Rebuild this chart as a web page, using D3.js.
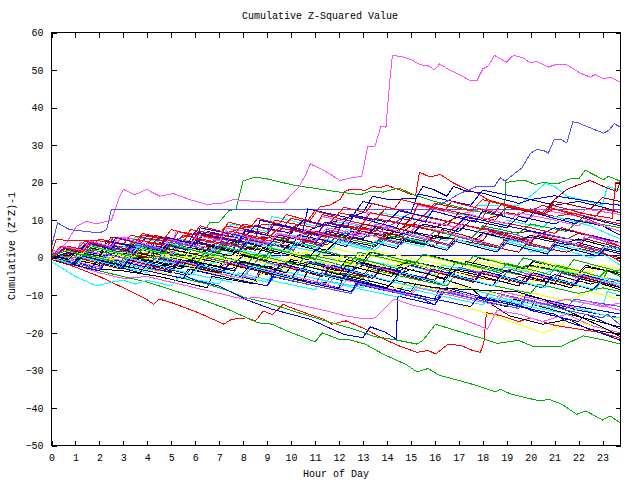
<!DOCTYPE html>
<html>
<head>
<meta charset="utf-8">
<script src="https://cdn.jsdelivr.net/npm/d3@7"></script>
<style>
  body { margin: 0; background: #fff; }
  text { font-family: "Liberation Mono", "DejaVu Sans Mono", monospace; font-size: 10px; fill: #000; }
</style>
</head>
<body>
<svg id="chart" width="640" height="480"></svg>
<script>
// tick values
const xTicks = d3.range(0, 24);
const yTicks = [-50, -40, -30, -20, -10, 0, 10, 20, 30, 40, 50, 60];
const xMax = 23.75;

// each series: [hour, cumulative value]
const redPeak = [[0,0],[1,2],[2,3.5],[3,3],[4,5],[5,4.5],[6,6.5],[7,6],[8,8],[9,9],[10,8],[10.8,10],[11.2,13.5],[11.6,14],[12.04,15.5],[12.25,17.7],[12.46,18.2],[13.1,18],[13.43,19],[13.7,18.6],[13.99,19.3],[14.48,18.2],[14.9,17.1],[15.2,16.6],[15.36,22.8],[15.8,21.5],[16.22,22.2],[16.78,19.9],[17.33,18.2],[17.75,17.3],[18.2,15.5],[19,14],[20,12.5],[20.5,14],[21,13],[22,11.5],[23,10],[23.75,9]];
const greenHigh = [[0,0],[1,1],[2,2.5],[3,1.5],[4,3],[5,2],[6.05,4],[6.6,9.3],[7.0,9.5],[7.4,12.5],[7.7,13],[8.0,20.5],[8.5,21.5],[9,21],[10,19.5],[10.4,19],[11,18.5],[12,17.5],[12.9,16.8],[13.3,17.7],[13.85,17.5],[14.5,18.6],[15.1,16.8],[16,15],[17,13.5],[18,12],[18.9,11],[18.96,20],[19.28,20.4],[19.77,20.6],[20.2,19.5],[20.53,20.1],[20.87,19.8],[21.16,19.8],[21.65,21],[22,21],[22.28,23.3],[22.62,22.2],[23.04,20.8],[23.25,21.7],[23.75,20.4]];
const blueFlat = [[0,0],[0.3,0.5],[23.75,0.5]];
const magentaBig = [[0,0],[0.3,2],[0.62,4],[1.04,8.4],[1.46,9.7],[1.88,9],[2.3,9.7],[2.5,10],[2.85,16.4],[3.0,18.2],[3.48,16.8],[3.97,18.2],[4.52,16.4],[5.08,17.1],[5.78,15.5],[6.47,14.2],[7.17,14.6],[7.59,15.5],[8.5,15],[9.68,14.6],[10.3,18.6],[10.6,22],[10.8,25],[11.3,23.5],[11.7,22],[12.04,20.6],[12.53,21.3],[12.95,21.7],[13.2,29.7],[13.5,29.7],[13.75,35],[13.96,34.8],[14.1,45.6],[14.23,53.9],[14.6,53.6],[15.04,52.7],[15.38,51.4],[15.73,51.1],[15.98,50.1],[16.2,51.6],[16.6,50.1],[17.05,48.7],[17.47,47.2],[17.75,47.1],[18.0,50.3],[18.24,51.1],[18.49,53.9],[18.98,52.1],[19.28,53.9],[19.7,53.2],[19.98,51.9],[20.26,52.3],[20.74,50.8],[21.02,51.4],[21.51,51.4],[22.07,49.2],[22.49,48.1],[22.7,48.8],[23.05,47.7],[23.33,48.1],[23.75,46.8]];
const cyanHigh = [[0,2],[1,0.5],[1.3,4],[3,2],[3.5,5.5],[5,3.5],[5.3,7],[7,5],[7.5,9],[9,7],[9.2,11],[11,8.5],[12,9.5],[13.5,7.5],[13.7,12],[15.5,10],[16,13],[17.5,11],[17.8,14],[19.5,14],[20.3,18],[20.6,19.8],[21,19],[21.5,16.5],[23,14],[23.2,19],[23.75,18]];
const darkredEnd = [[0,0],[1,1],[2,-1],[3,1],[4,0],[5,2],[6,1],[7,3],[8,2],[9,4],[10,3],[11,5],[12,4],[13,7],[14,6],[15,9],[16,8],[17,11],[18,10],[19,12],[19.5,11.5],[20,13],[20.5,12],[21,15.5],[21.5,18.2],[22.48,20.6],[23.18,18.6],[23.6,17.7],[23.75,20.4]];
const yellowA = [[0,1],[2,-1.5],[2.2,2],[4.5,-1],[5,1],[7,-2],[7.3,1],[9.5,-2],[10,0],[12,-3],[12.3,-1],[14,-3.5],[14.5,-1.5],[16.5,-4],[17,-2.5],[19,-5],[19.3,-3],[21.5,-6],[22,-5],[23.75,-8]];
const blackA = [[0,0],[1,-1.5],[2,-3],[3,-3.5],[4.5,-5],[6.5,-8],[6.7,-5],[8.5,-7],[8.7,-4],[10.5,-6.5],[11.5,-6.5],[11.7,-4],[13.5,-6.5],[15,-9],[15.2,-7],[17,-10],[19,-13],[19.3,-11],[21,-14],[22.5,-16.5],[23.75,-18.5]];
const lightblueFlat = [[0,3],[0.25,9.3],[0.75,7.5],[2.0,6.6],[2.3,7.5],[2.5,12.8],[23.75,12.8]];
const darkblueMid = [[0,0],[1,1],[2,0],[3,2],[4,1],[5,3],[6,2],[7,4],[8,3.5],[9,6],[10,5],[11,8],[12,10],[13,12],[13.4,16.4],[14,15.6],[15.2,15.7],[15.5,19],[15.94,18.2],[16.5,16.4],[16.78,19],[17.33,17.7],[17.96,17.3],[18.9,15.5],[19.5,14.5],[20,15.5],[21,14],[22,15],[23,13.5],[23.75,12]];
const redLow = [[0,0],[1,-2.5],[2,-5],[3,-8],[3.95,-11],[4.26,-12.4],[4.5,-11],[5.03,-12],[6.12,-14.6],[7.2,-17.7],[7.51,-16.4],[8.13,-16],[8.52,-16.8],[8.83,-14.2],[9.22,-15.1],[9.68,-12.4],[9.99,-13.3],[10.77,-15.1],[11.38,-16.4],[11.7,-17.7],[12.3,-16.8],[13.1,-19],[13.86,-21.6],[14.48,-23.4],[15.26,-25.2],[15.72,-24.7],[16.03,-25.6],[16.57,-23],[17.1,-23.4],[17.58,-24.7],[17.9,-25.2],[18.05,-22.5],[18.15,-14.6],[18.8,-15.5],[19.5,-17],[20,-16],[21,-18],[22,-19],[23,-20],[23.75,-21.5]];
const greenLow = [[0,0],[1,-1.5],[2,-3.5],[3,-5],[4,-6.5],[5,-8.5],[6.27,-11.1],[7.36,-13.7],[8.6,-17.3],[9.2,-17.7],[9.84,-19.5],[11.0,-22.4],[11.3,-20],[12.0,-21.7],[12.47,-21.9],[13.09,-23],[13.86,-25.7],[14.79,-28.4],[15.26,-30.4],[15.72,-29.5],[16.19,-31.3],[16.96,-32.6],[17.74,-34],[18.51,-35.7],[18.74,-35],[19.13,-36.2],[19.75,-37.2],[20.37,-38.1],[20.76,-37.7],[21.3,-39],[21.92,-41.7],[22.3,-40.8],[23.0,-43.2],[23.31,-42.1],[23.75,-44]];
const blueB = [[0,1],[1.5,-0.5],[1.7,4],[3.5,2],[4,6],[6,3.5],[6.2,8],[8.5,5],[8.7,10],[10.5,7.5],[10.7,13],[12.5,10.5],[13,15],[15,12],[15.3,17],[17.5,14],[18,18],[20,15.5],[21,16.5],[23,14.5],[23.75,14]];
const magentaB = [[0,2],[1,0.5],[1.2,4],[2.5,3],[3,5.5],[5,3],[5.2,7],[7,5],[7.2,8],[9,6],[9.3,10],[11,8],[11.3,11],[13,8.5],[13.2,12],[15,10],[15.3,14],[17,11.5],[18,13],[20,10.5],[20.3,13],[22,11],[22.3,13],[23.75,11.5]];
const cyanLow = [[0,-1],[0.5,-3],[1,-5],[1.9,-7.5],[2.5,-6.5],[3,-6],[3.5,-7],[4,-6],[5,-7.5],[5.3,-5],[7,-7],[7.3,-4],[9,-6.5],[9.3,-3],[11,-5.5],[13,-8],[13.3,-5],[15,-7.5],[17,-10],[17.3,-8],[19,-11],[21,-13.5],[21.3,-11],[23,-13],[23.2,-9],[23.75,-10]];
const darkredB = [[0,0],[1,1.5],[2,0],[2.3,3],[4,1],[4.3,4],[6,2.5],[6.3,6],[8,4],[9,5.5],[10.5,3.5],[10.8,7],[12.5,5],[13,8],[14.5,6],[15,8.5],[16.5,6.5],[17,9],[19,6.5],[20,7],[21.5,5],[22,6.5],[23.75,4]];
const yellowB = [[0,0.5],[1,-1],[1.3,2],[3,0],[3.5,2],[5.5,-1],[6,1],[8,-1.5],[8.3,1],[10,-1],[10.5,1.5],[12.5,-1],[13,1],[15,-2],[15.5,0.5],[17.5,-2],[18,0],[20,-3],[20.5,-1],[22.5,-4],[23,-2],[23.75,-3]];
const blackB = [[0,0],[1,-1],[1.3,1.5],[3,-1],[4,0.5],[5.5,-1.5],[6,0],[7.5,-2],[8,0.5],[9.5,-1.5],[10.5,-3],[10.8,-1],[12.5,-3.5],[13,-2],[14.5,-4.5],[15,-3],[16.5,-6],[17.5,-8],[18.05,-11.1],[19.13,-15.5],[20.5,-17.7],[21.6,-16.4],[22.4,-19],[23.75,-20.4]];
const lightblueRise = [[0,0],[1,2],[2,1],[3,3],[4,2],[5,4],[6,3],[7,5],[8,4],[9,6],[10,5],[11,7],[12,6],[13,9],[14,8],[15,12],[15.5,11],[16,14],[16.5,15],[17,17],[17.47,18.2],[17.75,19],[18.24,19],[18.47,18.9],[18.73,21.3],[18.94,20.4],[19.28,22.2],[19.63,23.9],[20.0,27.9],[20.26,28.8],[20.53,28.6],[20.74,27.9],[20.99,31.6],[21.26,31.5],[21.51,30.6],[21.76,36.2],[22.0,35.9],[22.41,34.8],[22.76,33.9],[23.04,33.2],[23.25,33.9],[23.49,35.7],[23.75,34.8]];
const darkblueB = [[0,0],[1,-1.5],[2,-3],[2.2,0],[4,-2.5],[5,-4],[5.2,-1],[7,-3.5],[8.5,-6],[8.7,-3],[10.5,-6],[12,-8],[12.2,-5],[14,-8],[16,-11],[16.2,-8],[18,-11],[20,-13.5],[20.2,-11],[22,-14],[23.75,-16]];
const redEndJump = [[0,1],[0.2,5],[0.7,4.5],[2,4.5],[3,3.5],[3.3,6],[5,4],[5.3,7],[7,5],[7.3,8.5],[9,6.5],[9.3,10],[11,8],[11.3,11.5],[13,9],[13.3,12],[15,10],[15.3,14.5],[17,12],[18,10.5],[18.3,15],[20,12.5],[21,11],[22,12],[23.4,10.5],[23.55,20],[23.75,20.3]];
const greenB = [[0,0],[1,-1.5],[2,-3],[2.3,-1],[4,-3.5],[5.5,-5.5],[6.5,-7],[7.5,-9],[8,-10.5],[9,-12],[10,-14],[11,-16],[12.6,-19],[13.5,-21],[14.48,-22],[15.26,-23],[15.5,-22],[16.03,-17.7],[17.2,-20],[18,-21.5],[18.6,-22.8],[19.5,-22],[20.1,-23.6],[21.3,-23.5],[22.2,-20.8],[23.2,-22.1],[23.75,-23]];
const blueD = [[0,0],[1,-1],[2,-3],[2.2,0],[4,-2.5],[5.5,-4.5],[6,-6],[7,-7.5],[8.1,-11.1],[9.2,-13.7],[10.8,-16.4],[12.2,-20.4],[13.0,-21.3],[13.3,-18.4],[13.9,-19.7],[14.4,-21.7],[14.45,-10.2],[16,-12.5],[16.3,-9],[18,-11.5],[19.5,-13.5],[19.8,-10],[21.5,-12.5],[23.75,-15]];
const magentaG = [[0,-0.5],[1,-2],[2,-4],[3,-5.5],[4,-5],[5,-6.5],[6,-8],[7,-9.5],[8,-11],[8.5,-10.5],[10,-12],[11.7,-14.5],[12.3,-15.5],[13.1,-16.3],[13.5,-16],[14.3,-11],[15,-12.5],[16,-14],[17,-16],[18.2,-19],[18.6,-14],[19.5,-15],[20.5,-17],[21.5,-15],[22.5,-18],[23.75,-20]];
const cyanC = [[0,1.5],[1,0],[1.3,3],[3,1],[3.3,4],[5,2],[5.3,5],[7,3],[7.5,6],[9.5,3.5],[10,6],[12,4],[12.3,7.5],[14,5],[15,6.5],[16.5,4.5],[17,8],[18.5,6],[19,10],[20.5,8],[21,11],[22.5,8.5],[23,7],[23.75,5]];
const darkredC = [[0,-0.5],[1,-2],[1.3,0],[3,-2],[3.3,1],[5,-1],[6,-2.5],[6.3,0],[8,-2],[9.5,-4],[9.8,-1],[11.5,-3.5],[13,-5],[13.3,-2],[15,-4.5],[16,-6],[16.3,-3],[18,-5.5],[19,-6.6],[19.5,-5],[21,-7],[21.3,-4],[23,-6.5],[23.75,-6]];
const yellowI = [[0,0],[1,-1.5],[2,-3],[2.3,-1],[4,-3],[5,-4.5],[5.3,-2],[7,-4.5],[8.5,-6.5],[8.8,-4],[10.5,-6.5],[12,-8.5],[12.3,-6],[14,-8.5],[15.5,-10.5],[16,-11],[17,-12.5],[18,-14.5],[19.4,-17.5],[20.5,-20],[21,-19],[21.6,-16.4],[22.5,-18],[23,-15],[23.75,-16.5]];
const blackC = [[0,0.5],[1,-0.5],[2,-2],[2.3,1],[4,-1.5],[5,0],[7,-2.5],[7.3,0],[9,-2.5],[10,-1],[12,-3.5],[12.3,-0.5],[14,-3],[15,-1],[17,-3.5],[17.3,-1],[19,-3.5],[20,-2],[22,-4.5],[22.3,-2.5],[23.75,-4]];
const lightblueC = [[0,0],[1,-1.5],[1.3,1],[3,-1.5],[4,-3],[4.3,0],[6,-2.5],[7.5,-5],[7.8,-2],[9.5,-4.5],[11,-7],[11.3,-4],[13,-6.5],[14.5,-9],[14.8,-6.5],[16.5,-9],[18,-11.5],[18.3,-9],[20,-11.5],[21.5,-13.5],[21.8,-11],[23.75,-13]];
const darkblueC = [[0,1],[1,0],[1.3,3],[3,1],[4,3.5],[5.5,1.5],[6,4],[7.5,2],[8,5],[10,2.5],[10.3,6],[12,4],[12.5,7],[14,5],[15,7],[16.5,5],[17,8],[18.5,6],[19,4.5],[20,5.5],[21.5,3.5],[22,4],[23.75,1]];
const redD = [[0,0],[0.7,3],[1.5,2],[2,5],[3.5,3],[3.8,6],[5.5,4],[5.8,7.5],[7.5,5.5],[8,9],[9.5,7],[10,10.5],[11.5,8.5],[12,12],[13.5,10],[14,13.5],[15.5,11],[16,14.5],[17.5,12.5],[18,15.5],[19.5,13],[20.5,11.5],[21,13],[22.5,10],[23,8.5],[23.75,7]];
const greenD = [[0,0],[1,-1],[1.3,2],[3,0],[3.3,3.5],[5,1.5],[6,0],[6.3,3],[8,1],[9,-0.5],[9.3,2.5],[11,0.5],[12.5,-1.5],[12.8,1.5],[14.5,-1],[16,-3],[16.3,-0.5],[18,-2.5],[19.5,-4.5],[19.8,-2],[21.5,-4],[23,-6],[23.2,-3.5],[23.75,-5]];
const blueE = [[0,0],[1,-1.5],[2,-3],[2.2,-1],[4,-3.5],[5.5,-5.5],[5.7,-3],[7.5,-5.5],[9,-7.5],[9.2,-5],[11,-7.5],[12.5,-9.5],[12.7,-7],[14.5,-9.5],[15.5,-11],[16,-12.5],[16.5,-8],[18,-10.5],[19.5,-12.5],[20,-14],[21,-15.5],[22,-17],[22.3,-15],[23.75,-19]];
const magentaD = [[0,0],[1,-1.5],[1.3,1],[3,-1.5],[4.5,-3.5],[4.8,-1],[6.5,-3.5],[8,-5.5],[8.3,-3],[10,-5.5],[11.5,-7.5],[11.8,-5],[13.5,-7.5],[15,-9.5],[15.3,-7],[17,-9.5],[18.5,-11.5],[18.8,-9],[20.5,-11.5],[22,-13.5],[22.3,-11.5],[23.75,-14]];
const cyanD = [[0,1],[0.7,-1],[1,2],[2.5,0],[3,3],[4.5,1],[5,-0.5],[5.3,2.5],[7,0.5],[8,2],[9.5,0],[10,3],[11.5,1],[12,4.5],[13.5,2],[14,5],[15.5,3],[16,6],[17.5,4],[18,6.5],[19.5,4],[20,1.5],[21,3],[22.5,0],[23,1],[23.75,-2]];
const darkredD = [[0,0],[1,1.5],[2,0],[2.3,3],[4,1],[4.5,4],[6,2],[7,4],[8.5,2],[9,5.5],[10.5,3.5],[11,7],[12.5,5],[13,9],[14.5,7],[15,10.5],[16.5,8.5],[17,12],[18.5,10],[19,13.5],[20.5,11.5],[21,15],[22.5,13],[23,16],[23.75,15]];
const yellowD = [[0,0],[1,-1.5],[1.5,-2.5],[1.8,0],[3.5,-2.5],[5,-4.5],[5.3,-2],[7,-4.5],[8.5,-6.5],[8.8,-4],[10.5,-6.5],[12,-8.5],[12.3,-6],[14,-8.5],[15,-7],[16.5,-9],[17,-7.5],[18.5,-9.5],[19.5,-11],[19.8,-9],[21.5,-11.5],[22.5,-9],[23.75,-11]];
const blackD = [[0,0],[1,-1.5],[2,-3],[2.2,-0.5],[4,-3],[5,-1.5],[7,-4],[7.2,-1.5],[9,-4],[10.5,-6],[10.7,-3.5],[12.5,-6],[14,-8],[14.3,-6],[16,-8],[17.5,-8.5],[19.4,-9],[20.5,-11],[21.5,-14],[22.5,-17],[23,-18.5],[23.75,-21]];
const lightblueD = [[0,1],[1,-0.5],[1.3,2.5],[3,0.5],[3.5,3.5],[5,1.5],[5.5,4],[7,2],[7.5,5],[9,3],[9.5,6],[11,4],[11.5,7.5],[13,5.5],[14,6.5],[15.5,4.5],[16,7],[17.5,5],[18,8],[19.5,6],[20,4.5],[20.5,6.5],[22,4.5],[22.5,5.5],[23.75,3]];
const darkblueD = [[0,0],[1,-1.5],[1.3,0.5],[3,-1.5],[4,-0.5],[5.5,-2.5],[6,-1],[7.5,-3],[8,-1],[9.5,-3],[10,-0.5],[11.5,-2.5],[12.5,-4],[12.8,-1],[14.5,-3.5],[15,-2],[16.5,-4.5],[17,-3],[18.5,-5],[19,-3.5],[20.5,-6],[21,-4.5],[22.5,-7],[23,-6],[23.75,-8]];
const redE = [[0,0],[1,1.5],[1.5,0.5],[2,3],[3.5,1.5],[4,4],[5.5,2.5],[6,5],[7.5,3],[8,6],[9.5,4],[10,7.5],[11.5,5.5],[12,9],[13.5,7],[14,10],[15.5,8],[16.5,6.5],[17,9],[18.5,7],[20,4.5],[20.3,6],[22,3],[23,1.5],[23.75,-1]];
const greenE = [[0,1],[1,0],[1.3,2.5],[3,0.5],[3.5,3],[5,1],[5.5,3.5],[7,1.5],[7.5,4],[9,2],[9.5,5],[11,3],[12,5.5],[13.5,3.5],[14,6],[15.5,4],[16,7],[17.5,5],[18,8.5],[19.5,6.5],[20,9],[21.5,7],[22,10],[23.75,8]];
const blueF = [[0,0],[1,2],[2,1],[2.3,4.5],[4,2.5],[4.5,5.5],[6,3.5],[6.5,7],[8,5],[8.5,8.5],[10,6.5],[10.5,10],[12,8],[12.5,11.5],[14,9.5],[14.5,12.5],[16,10.5],[17,9],[17.3,11],[19,8.5],[20.5,6.5],[21,8],[22.5,6],[23.75,4]];
const magentaE = [[0,0.5],[1,-1],[2,-2.5],[2.3,0],[4,-2],[5,-3.5],[5.3,-1.5],[7,-3.5],[8.5,-5.5],[8.8,-3],[10.5,-5.5],[11.5,-7],[12,-8.5],[12.3,-6],[14,-8.5],[15,-10],[15.3,-8],[17,-10.5],[18.5,-12.5],[18.8,-10],[20.5,-12.5],[21.5,-11],[23,-13],[23.75,-12]];
const cyanE = [[0,-0.5],[1,-2],[1.3,0],[3,-2.5],[4,-4],[4.3,-2],[6,-4.5],[7.5,-6.5],[7.8,-4],[9.5,-6.5],[11,-8.5],[11.3,-6],[13,-8.5],[14.5,-10.5],[14.8,-8],[16.5,-10.5],[18,-12.5],[18.3,-10.5],[20,-13],[21.5,-15],[22,-13.5],[23.5,-16],[23.75,-16]];
const darkredE = [[0,0],[1,1],[1.3,3],[3,1.5],[3.5,4],[5,2],[5.5,4.5],[7,3],[8,5],[9.5,3],[10,5.5],[11.5,3.5],[12,6],[13.5,4],[14,6.5],[15.5,4.5],[16,3],[16.3,5.5],[18,3.5],[19.5,1.5],[19.8,3.5],[21.5,1.5],[22,2.5],[23.75,0]];
const yellowE = [[0,0],[1,-1.5],[1.3,1],[2.5,-0.5],[3,1.5],[4.5,0],[5,2],[6.5,0],[7,2.5],[8.5,0.5],[9,3],[10.5,1],[11,3.5],[12.5,1.5],[13,0],[13.3,2],[15,0],[16.5,-2],[16.8,0],[18.5,-2],[20,-4],[20.3,-2],[22,-4],[23.75,-6]];
const blackE = [[0,0],[1,1],[1.3,3],[3,1],[4,2.5],[5.5,0.5],[6,2.5],[7.5,0.5],[8,3],[9.5,1],[10,4],[11.5,2],[12,5],[13.5,3],[14,5.5],[15.5,3.5],[16,6],[17.5,4],[18,6.5],[19.5,4.5],[20,6],[21.5,4],[22,5],[23.75,2]];
const lightblueE = [[0,0],[1,-1.5],[2,-3],[2.3,-1],[4,-3.5],[5.5,-5.5],[5.8,-3],[7.5,-5.5],[9,-7.5],[9.3,-5],[11,-7.5],[12.5,-9.5],[12.8,-7],[14.5,-9.5],[16,-11.5],[16.3,-9],[18,-11.5],[19.5,-13.5],[19.8,-11],[21.5,-14],[23,-16],[23.2,-15],[23.75,-18]];
const darkblueE = [[0,0.5],[1,-0.5],[1.3,2],[3,0],[3.3,3],[5,1],[5.5,4],[7,2],[7.5,5],[9,3],[9.5,6],[11,4],[11.5,7],[13,5],[13.5,8],[15,6],[15.5,9],[17,7],[17.5,10],[19,8],[19.5,11],[21,9],[21.5,10.5],[23,8.5],[23.75,6]];
const redF = [[0,0.5],[0.5,2],[1,1],[1.5,3.5],[3,2],[3.5,5],[5,3],[5.5,6],[7,4],[7.5,7],[9,5],[9.5,8],[11,6],[11.5,9.5],[13,7.5],[13.5,10.5],[15,8.5],[15.5,11],[17,9],[18,7.5],[18.3,10],[20,8],[21,6.5],[21.3,8],[23,5],[23.75,3]];
const greenF = [[0,0],[1,-1.5],[1.3,1],[3,-1.5],[3.3,1.5],[5,-0.5],[6,-2],[6.3,0.5],[8,-1.5],[9.5,-3.5],[9.8,-1],[11.5,-3.5],[13,-5.5],[13.3,-3],[15,-5.5],[16.5,-7.5],[16.8,-5],[18.5,-7.5],[20,-9.5],[20.3,-7],[22,-9.5],[23,-8],[23.75,-9]];
const blueG = [[0,-0.5],[1,-2],[2,-3.5],[2.3,-1],[4,-3.5],[5.5,-5.5],[5.8,-3],[7.5,-5.5],[9,-7.5],[9.3,-4.5],[11,-7],[12.5,-9],[12.8,-6.5],[14.5,-9],[16,-11],[17.5,-13],[17.8,-10.5],[19.5,-13],[21,-15],[21.5,-17],[22.5,-19],[23.75,-22]];
const magentaF = [[0,1],[1,-0.5],[1.3,2],[3,0],[3.5,3],[5,1],[5.5,4],[7,2],[7.5,5.5],[9,3.5],[9.5,6.5],[11,4.5],[11.5,8],[13,6],[13.5,9],[15,7],[15.5,10],[17,8],[17.5,11.5],[19,9],[19.5,12],[21,10],[22,8.5],[22.3,10],[23.75,7]];
const cyanF = [[0,0],[1,-1.5],[1.3,0.5],[3,-1.5],[4,-3],[4.3,-0.5],[6,-2.5],[7,-1],[8.5,-3],[9,-1.5],[10.5,-3.5],[11,-1],[12.5,-3],[13,-0.5],[14.5,-2.5],[16,-4.5],[16.3,-2],[18,-4],[19,-2.5],[20.5,-4.5],[21,-3],[22.5,-5],[23.75,-6]];
const darkredF = [[0,0],[0.5,2],[1,1.5],[1.5,4],[2.2,3],[2.5,5.5],[3.2,4.5],[4,3.5],[4.3,6],[5,5],[5.8,4],[6.1,6.5],[7,5.5],[7.8,4.5],[8.1,7],[9,6],[9.8,5],[10.1,8],[11,6.5],[11.8,5.5],[12.1,8.5],[13,7],[14,5.5],[14.3,8],[15.2,6.5],[16,5],[16.3,7.5],[17.2,6],[18,4.5],[18.3,7],[19.2,5.5],[20,4],[20.3,6],[21.2,4.5],[22,3],[22.3,5],[23.2,3.5],[23.75,2.5]];
const yellowF = [[0,0],[0.6,-1],[0.9,1],[1.6,0],[2.3,-1.5],[2.6,1],[3.4,-0.5],[4.2,-2],[4.5,0.5],[5.3,-1],[6,-2.5],[6.3,0],[7.2,-1.5],[8,-3],[8.3,-0.5],[9.2,-2],[10,-3.5],[10.3,-1],[11.2,-2.5],[12,-4],[12.3,-1.5],[13.2,-3],[14,-4.5],[14.3,-2],[15.2,-3.5],[16,-5],[16.3,-3],[17.2,-4.5],[18,-6],[18.3,-4],[19.2,-5.5],[20,-7],[20.3,-5],[21.2,-6.5],[22,-8],[22.3,-6],[23.2,-7.5],[23.75,-8.5]];
const blackF = [[0,0.5],[0.7,-0.5],[1,1.5],[2,0.5],[2.3,3],[3.3,1.5],[4.2,0.5],[4.5,3],[5.5,1.5],[6.3,0.5],[6.6,3],[7.6,1.5],[8.5,0],[8.8,2.5],[9.8,1],[10.7,-0.5],[11,2],[12,0.5],[13,-1],[13.3,1.5],[14.3,0],[15.2,-1.5],[15.5,1],[16.5,-0.5],[17.5,-2],[17.8,0],[18.8,-1.5],[19.8,-3],[20.1,-1],[21.1,-2.5],[22,-4],[22.3,-2],[23.2,-3.5],[23.75,-4.5]];
const lightblueF = [[0,-0.5],[0.8,-2],[1.1,0],[2,-1.5],[2.3,1],[3.2,-0.5],[4.1,-2],[4.4,0.5],[5.3,-1],[6.2,-2.5],[6.5,0],[7.4,-1.5],[8.3,-3],[8.6,-0.5],[9.5,-2],[10.4,-3.5],[10.7,-1],[11.6,-2.5],[12.5,-4],[12.8,-1.5],[13.7,-3],[14.6,-4.5],[14.9,-2],[15.8,-3.5],[16.7,-5],[17,-2.5],[17.9,-4],[18.8,-5.5],[19.1,-3],[20,-4.5],[20.9,-6],[21.2,-4],[22.1,-5.5],[23,-7],[23.3,-5.5],[23.75,-6.5]];
const darkblueF = [[0,0],[0.7,1.5],[1,0.5],[1.5,3],[2.4,1.5],[2.7,4],[3.6,2.5],[4.5,1],[4.8,3.5],[5.7,2],[6,4.5],[6.9,3],[7.8,1.5],[8.1,4],[9,2.5],[9.3,5],[10.2,3.5],[11.1,2],[11.4,4.5],[12.3,3],[12.6,5.5],[13.5,4],[14.4,2.5],[14.7,5],[15.6,3.5],[16.5,2],[16.8,4.5],[17.7,3],[18.6,1.5],[18.9,4],[19.8,2.5],[20.7,1],[21,3.5],[21.9,2],[22.8,0.5],[23.1,2.5],[23.75,1.5]];
const redG = [[0,0.5],[0.4,3],[1,2],[1.4,4.5],[2.3,3],[2.6,5.5],[3.5,4],[3.8,6.5],[4.7,5],[5,7.5],[5.9,6],[6.2,8.5],[7.1,7],[7.4,9.5],[8.3,8],[8.6,10.5],[9.5,9],[9.8,11.5],[10.7,10],[11,12.5],[11.9,11],[12.2,13.5],[13.1,12],[13.4,14.5],[14.3,13],[14.6,15.5],[15.5,14],[16.4,12.5],[16.7,15],[17.6,13.5],[18.5,12],[18.8,14.5],[19.7,13],[20.6,11.5],[20.9,14],[21.8,12.5],[22.7,11],[23,13],[23.75,12]];
const greenG = [[0,0],[0.8,-1],[1.1,1],[2,0],[2.8,-1.5],[3.1,0.5],[4,-0.5],[4.3,2],[5.2,0.5],[6.1,-1],[6.4,1.5],[7.3,0],[8.2,-1.5],[8.5,1],[9.4,-0.5],[10.3,-2],[10.6,0.5],[11.5,-1],[12.4,-2.5],[12.7,0],[13.6,-1.5],[14.5,-3],[14.8,-0.5],[15.7,-2],[16.6,-3.5],[16.9,-1],[17.8,-2.5],[18.7,-4],[19,-1.5],[19.9,-3],[20.8,-4.5],[21.1,-2],[22,-3.5],[22.9,-5],[23.2,-3],[23.75,-4]];
const blueH = [[0,0],[0.5,2.5],[1.2,1.5],[1.5,4],[2.4,2.5],[2.7,5.5],[3.6,4],[4.5,2.5],[4.8,5.5],[5.7,4],[6,7],[6.9,5.5],[7.8,4],[8.1,7.5],[9,6],[9.3,9],[10.2,7.5],[11.1,6],[11.4,9.5],[12.3,8],[12.6,11],[13.5,9.5],[14.4,8],[14.7,11],[15.6,9.5],[15.9,12.5],[16.8,11],[17.7,9.5],[18,12.5],[18.9,11],[19.8,9.5],[20.1,12],[21,10.5],[21.9,9],[22.2,11],[23.1,9.5],[23.75,8.5]];
const magentaH = [[0,0],[0.7,-1.5],[1,0.5],[1.9,-1],[2.8,-2.5],[3.1,0],[4,-1.5],[4.9,-3],[5.2,-0.5],[6.1,-2],[7,-3.5],[7.3,-1],[8.2,-2.5],[9.1,-4],[9.4,-1.5],[10.3,-3],[11.2,-4.5],[11.5,-2],[12.4,-3.5],[13.3,-5],[13.6,-2.5],[14.5,-4],[15.4,-5.5],[15.7,-3],[16.6,-4.5],[17.5,-6],[17.8,-3.5],[18.7,-5],[19.6,-6.5],[19.9,-4],[20.8,-5.5],[21.7,-7],[22,-4.5],[22.9,-6],[23.75,-7.5]];
const cyanG = [[0,0.5],[0.5,2],[1.2,1],[1.5,3.5],[2.4,2],[3.3,0.5],[3.6,3],[4.5,1.5],[4.8,4],[5.7,2.5],[6.6,1],[6.9,3.5],[7.8,2],[8.1,4.5],[9,3],[9.9,1.5],[10.2,4],[11.1,2.5],[11.4,5],[12.3,3.5],[13.2,2],[13.5,4.5],[14.4,3],[14.7,5.5],[15.6,4],[16.5,2.5],[16.8,5],[17.7,3.5],[18.6,2],[18.9,4.5],[19.8,3],[20.7,1.5],[21,4],[21.9,2.5],[22.8,1],[23.1,3],[23.75,2]];
const darkredG = [[0,-0.5],[0.8,-2],[1.1,0],[2,-1.5],[2.9,-3],[3.2,-0.5],[4.1,-2],[5,-3.5],[5.3,-1],[6.2,-2.5],[7.1,-4],[7.4,-1.5],[8.3,-3],[9.2,-4.5],[9.5,-2],[10.4,-3.5],[11.3,-5],[11.6,-2.5],[12.5,-4],[13.4,-5.5],[13.7,-3],[14.6,-4.5],[15.5,-6],[15.8,-3.5],[16.7,-5],[17.6,-6.5],[17.9,-4],[18.8,-5.5],[19.7,-7],[20,-4.5],[20.9,-6],[21.8,-7.5],[22.1,-5],[23,-6.5],[23.75,-8]];
const yellowG = [[0,0.5],[0.6,2],[1.3,1],[1.6,3],[2.5,1.5],[3.4,0],[3.7,2.5],[4.6,1],[5.5,-0.5],[5.8,2],[6.7,0.5],[7.6,-1],[7.9,1.5],[8.8,0],[9.7,-1.5],[10,1],[10.9,-0.5],[11.8,-2],[12.1,0.5],[13,-1],[13.9,-2.5],[14.2,0],[15.1,-1.5],[16,-3],[16.3,-0.5],[17.2,-2],[18.1,-3.5],[18.4,-1],[19.3,-2.5],[20.2,-4],[20.5,-1.5],[21.4,-3],[22.3,-4.5],[22.6,-2],[23.5,-3.5],[23.75,-3.5]];
const blackG = [[0,0],[1,-1.5],[1.3,0.5],[2.3,-1],[3.2,-2.5],[3.5,0],[4.5,-1.5],[5.4,-3],[5.7,-0.5],[6.7,-2],[7.6,-3.5],[7.9,-1],[8.9,-2.5],[9.8,-4],[10.1,-1.5],[11.1,-3],[12,-4.5],[12.3,-2],[13.3,-3.5],[14.2,-5],[14.5,-2.5],[15.5,-4],[16.4,-5.5],[16.7,-3],[17.7,-4.5],[18.6,-6],[19.5,-7.5],[19.8,-5],[20.8,-6.5],[21.7,-8],[22,-5.5],[23,-7],[23.75,-8.5]];
const lightblueG = [[0,0.5],[0.6,2.5],[1.4,1.5],[1.7,4],[2.6,2.5],[3.5,1],[3.8,3.5],[4.7,2],[5,4.5],[5.9,3],[6.8,1.5],[7.1,4],[8,2.5],[8.3,5],[9.2,3.5],[10.1,2],[10.4,4.5],[11.3,3],[11.6,5.5],[12.5,4],[13.4,2.5],[13.7,5],[14.6,3.5],[14.9,6],[15.8,4.5],[16.7,3],[17,5.5],[17.9,4],[18.8,2.5],[19.1,5],[20,3.5],[20.9,2],[21.2,4.5],[22.1,3],[23,1.5],[23.3,3],[23.75,2.5]];
const darkblueG = [[0,0],[0.8,-1.5],[1.6,-3],[1.9,-1],[2.8,-2.5],[3.7,-4],[4,-1.5],[4.9,-3],[5.8,-4.5],[6.1,-2],[7,-3.5],[7.9,-5],[8.2,-2.5],[9.1,-4],[10,-5.5],[10.3,-3],[11.2,-4.5],[12.1,-6],[12.4,-3.5],[13.3,-5],[14.2,-6.5],[14.5,-4],[15.4,-5.5],[16.3,-7],[16.6,-4.5],[17.5,-6],[18.4,-7.5],[18.7,-5],[19.6,-6.5],[20.5,-8],[20.8,-5.5],[21.7,-7],[22.6,-8.5],[22.9,-6.5],[23.75,-8]];
const redH = [[0,0],[0.6,2.5],[1.3,1.5],[1.6,4],[2.5,3],[2.8,5.5],[3.7,4],[4.6,2.5],[4.9,5],[5.8,3.5],[6.1,6],[7,4.5],[7.9,3],[8.2,5.5],[9.1,4],[9.4,6.5],[10.3,5],[11.2,3.5],[11.5,6],[12.4,4.5],[12.7,7],[13.6,5.5],[14.5,4],[14.8,6.5],[15.7,5],[16.6,3.5],[16.9,6],[17.8,4.5],[18.7,3],[19,5.5],[19.9,4],[20.8,2.5],[21.1,5],[22,3.5],[22.9,2],[23.2,4],[23.75,3]];
const greenH = [[0,0.5],[0.7,2],[1.4,0.5],[1.7,3],[2.6,1.5],[3.5,0],[3.8,2.5],[4.7,1],[5,3.5],[5.9,2],[6.8,0.5],[7.1,3],[8,1.5],[8.9,0],[9.2,2.5],[10.1,1],[11,-0.5],[11.3,2],[12.2,0.5],[13.1,-1],[13.4,1.5],[14.3,0],[15.2,-1.5],[15.5,1],[16.4,-0.5],[17.3,-2],[17.6,0.5],[18.5,-1],[19.4,-2.5],[19.7,0],[20.6,-1.5],[21.5,-3],[21.8,-0.5],[22.7,-2],[23.6,-3.5],[23.75,-3]];
const blueI = [[0,0],[0.9,-1.5],[1.2,0.5],[2.1,-1],[3,-2.5],[3.3,0],[4.2,-1.5],[5.1,-3],[5.4,-0.5],[6.3,-2],[7.2,-3.5],[7.5,-1],[8.4,-2.5],[9.3,-4],[9.6,-1.5],[10.5,-3],[11.4,-4.5],[11.7,-2],[12.6,-3.5],[13.5,-5],[13.8,-2.5],[14.7,-4],[15.6,-5.5],[15.9,-3],[16.8,-4.5],[17.7,-6],[18,-3.5],[18.9,-5],[19.8,-6.5],[20.1,-4],[21,-5.5],[21.9,-7],[22.2,-4.5],[23.1,-6],[23.75,-7]];
const magentaI = [[0,1],[0.5,3],[1.3,2],[1.6,4.5],[2.5,3],[2.8,5.5],[3.7,4],[4.6,2.5],[4.9,5],[5.8,3.5],[6.1,6],[7,4.5],[7.3,7],[8.2,5.5],[9.1,4],[9.4,6.5],[10.3,5],[10.6,7.5],[11.5,6],[12.4,4.5],[12.7,7],[13.6,5.5],[13.9,8],[14.8,6.5],[15.7,5],[16,7.5],[16.9,6],[17.8,4.5],[18.1,7],[19,5.5],[19.9,4],[20.2,6.5],[21.1,5],[22,3.5],[22.3,6],[23.2,4.5],[23.75,4]];
const cyanH = [[0,0],[0.8,-1.5],[1.1,0.5],[2,-1],[2.9,-2.5],[3.2,0],[4.1,-1.5],[5,-3],[5.9,-4.5],[6.2,-2],[7.1,-3.5],[8,-5],[8.3,-2.5],[9.2,-4],[10.1,-5.5],[10.4,-3],[11.3,-4.5],[12.2,-6],[12.5,-3.5],[13.4,-5],[14.3,-6.5],[14.6,-4],[15.5,-5.5],[16.4,-7],[16.7,-4.5],[17.6,-6],[18.5,-7.5],[18.8,-5],[19.7,-6.5],[20.6,-8],[20.9,-5.5],[21.8,-7],[22.7,-8.5],[23,-6],[23.75,-7]];

// plotted in this order; colours cycle through the palette
const allSeries = [
  redPeak, greenHigh, blueFlat, magentaBig, cyanHigh, darkredEnd, yellowA, blackA, lightblueFlat, darkblueMid,
  redLow, greenLow, blueB, magentaB, cyanLow, darkredB, yellowB, blackB, lightblueRise, darkblueB,
  redEndJump, greenB, blueD, magentaG, cyanC, darkredC, yellowI, blackC, lightblueC, darkblueC,
  redD, greenD, blueE, magentaD, cyanD, darkredD, yellowD, blackD, lightblueD, darkblueD,
  redE, greenE, blueF, magentaE, cyanE, darkredE, yellowE, blackE, lightblueE, darkblueE,
  redF, greenF, blueG, magentaF, cyanF, darkredF, yellowF, blackF, lightblueF, darkblueF,
  redG, greenG, blueH, magentaH, cyanG, darkredG, yellowG, blackG, lightblueG, darkblueG,
  redH, greenH, blueI, magentaI, cyanH
];
const palette = ["#ff0000", "#00b000", "#0000ff", "#ff50ff", "#00ffff",
                 "#a00000", "#ffff00", "#000000", "#5050ff", "#0000a0"];

const svg = d3.select("#chart");
const plotL = 51.5, plotR = 620.5, plotT = 32.5, plotB = 445.5;

const x = d3.scaleLinear().domain([0, xMax]).range([plotL, plotR]);
const y = d3.scaleLinear().domain([-50, 60]).range([plotB, plotT]);

svg.append("clipPath").attr("id", "plotclip")
  .append("rect")
    .attr("x", plotL).attr("y", plotT)
    .attr("width", plotR - plotL).attr("height", plotB - plotT);

const line = d3.line().x(d => x(d[0])).y(d => y(d[1]));

svg.append("g")
  .attr("clip-path", "url(#plotclip)")
  .selectAll("path")
  .data(allSeries)
  .join("path")
    .attr("d", line)
    .attr("fill", "none")
    .attr("stroke", (d, i) => palette[i % palette.length])
    .attr("stroke-width", 1)
    .attr("shape-rendering", "crispEdges");

// axes, ticks pointing inwards like gnuplot
svg.append("g")
  .attr("transform", `translate(0,${plotB})`)
  .call(d3.axisBottom(x).tickValues(xTicks).tickSize(-5).tickPadding(8).tickFormat(d3.format("d")));
svg.append("g")
  .attr("transform", `translate(0,${plotT})`)
  .call(d3.axisTop(x).tickValues(xTicks).tickSize(-5).tickFormat(""));
svg.append("g")
  .attr("transform", `translate(${plotL},0)`)
  .call(d3.axisLeft(y).tickValues(yTicks).tickSize(-5).tickPadding(8).tickFormat(d3.format("d")));
svg.append("g")
  .attr("transform", `translate(${plotR},0)`)
  .call(d3.axisRight(y).tickValues(yTicks).tickSize(-5).tickFormat(""));

svg.selectAll(".domain").remove();
svg.selectAll(".tick line").attr("stroke", "#000").attr("shape-rendering", "crispEdges");
svg.selectAll(".tick text").attr("font-family", null).attr("font-size", null).style("fill", "#000");

svg.append("rect")
  .attr("x", plotL).attr("y", plotT)
  .attr("width", plotR - plotL).attr("height", plotB - plotT)
  .attr("fill", "none").attr("stroke", "#000")
  .attr("shape-rendering", "crispEdges");

svg.append("text")
  .attr("x", 320).attr("y", 19)
  .attr("text-anchor", "middle")
  .text("Cumulative Z-Squared Value");

svg.append("text")
  .attr("x", (plotL + plotR) / 2).attr("y", 477)
  .attr("text-anchor", "middle")
  .text("Hour of Day");

svg.append("text")
  .attr("transform", "translate(15,246) rotate(-90)")
  .attr("text-anchor", "middle")
  .text("Cumulative (Z*Z)-1");
</script>
</body>
</html>
